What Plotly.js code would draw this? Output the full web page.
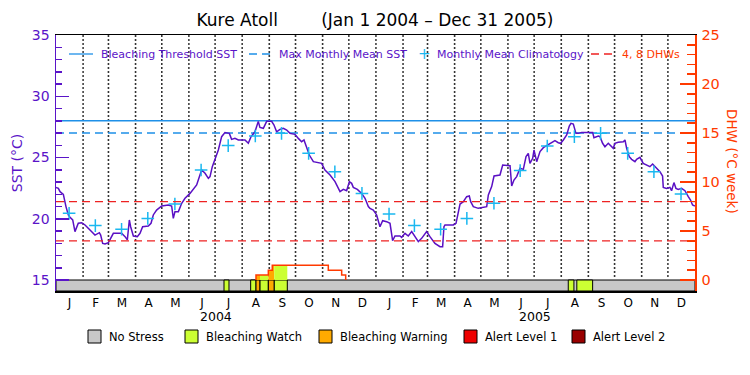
<!DOCTYPE html>
<html><head><meta charset="utf-8">
<script src="https://cdn.plot.ly/plotly-3.0.1.min.js"></script>
<style>html,body{margin:0;padding:0;background:#fff}#chart{width:750px;height:375px}</style>
</head><body><div id="chart"></div>
<script>
// ---- data (days are offsets from Jan 1 2004) ----
const periodStart = '2004-01-01';
const periodEnd = '2006-01-01';
const periodDays = 731;

const sstDay = [0,2.7,4.6,8.4,11.4,14.1,16.0,19.1,21.7,25.5,
 29.4,33.2,38.9,44.6,49.6,51.1,53.4,56.1,59.9,65.6,
 75.1,79.0,81.6,83.9,85.4,88.5,93.0,96.1,99.1,105.6,
 108.7,111.3,115.1,120.9,128.5,132.3,134.2,136.1,140.0,143.8,
 147.6,153.3,160.9,166.6,170.5,174.3,176.2,178.8,181.9,185.7,
 189.5,193.3,198.3,200.9,204.7,208.6,216.2,220.0,223.1,227.6,
 231.4,233.3,237.2,241.0,246.7,249.4,252.4,256.2,260.1,263.9,
 267.7,273.4,277.2,281.0,283.7,286.0,289.8,294.4,298.2,303.9,
 307.7,313.5,319.2,324.9,328.7,332.5,335.6,338.2,340.1,344.7,
 349.7,353.5,357.3,
 359.2,363.0,366.8,370.6,373.7,378.3,382.1,385.1,387.8,393.5,
 395.4,399.2,403.0,406.9,409.5,414.5,418.3,424.0,427.8,433.5,
 439.3,442.3,443.8,445.0,454.5,457.6,462.2,466.0,469.8,472.8,
 474.4,477.4,483.1,488.9,492.7,494.6,498.4,501.1,507.9,511.0,
 519.4,521.3,523.9,527.0,530.8,534.6,537.7,540.3,542.2,545.3,
 546.8,549.9,553.7,557.5,563.2,567.0,570.8,574.6,577.3,580.4,
 584.2,587.2,589.1,591.8,594.8,597.5,601.3,613.9,615.4,620.4,
 622.3,625.3,628.0,631.8,634.5,637.5,639.4,643.2,649.0,650.9,
 652.8,655.8,658.5,662.3,664.2,668.0,671.8,675.6,679.4,682.5,
 687.1,690.9,693.9,694.7,698.5,702.3,704.2,706.9,709.2,711.8,
 715.6,719.5,723.3,725.9,728.2,730.9];
const sstValue = [22.56,22.48,22.21,21.99,20.99,20.31,20.12,19.90,18.95,19.63,
 19.68,19.49,19.08,18.67,18.86,18.67,17.99,17.94,18.05,18.81,
 18.81,18.54,18.27,19.90,19.35,18.59,18.54,18.81,19.35,19.41,
 19.63,20.31,20.71,21.04,21.12,21.04,20.03,20.58,20.58,21.26,
 21.67,22.07,22.76,23.98,23.71,23.30,23.44,24.25,24.85,25.61,
 26.70,27.03,26.97,26.48,26.56,26.43,26.43,26.16,26.70,27.10,
 27.95,27.46,27.38,27.95,27.95,27.65,27.10,27.30,27.38,27.24,
 26.97,26.89,26.56,26.29,26.43,26.02,25.20,24.66,24.58,24.52,
 23.98,23.57,23.03,22.21,22.40,22.29,23.03,22.89,22.56,22.40,
 22.07,21.67,20.99,
 20.85,20.71,20.31,19.35,19.84,19.76,19.63,18.21,18.59,18.59,
 18.48,18.81,18.59,18.95,18.67,18.13,18.40,18.95,18.54,17.99,
 17.72,17.72,19.35,19.49,19.49,19.63,21.20,21.39,21.80,21.86,
 21.39,20.99,20.85,20.93,20.99,21.94,22.62,23.49,23.57,24.39,
 24.33,22.67,23.16,23.44,24.12,24.03,25.07,25.34,24.52,24.93,
 25.61,24.66,25.48,25.80,26.02,26.21,26.37,26.21,26.16,26.43,
 26.84,27.57,27.79,27.73,26.97,26.97,27.05,27.05,26.62,26.76,
 26.70,26.16,25.88,26.16,25.94,25.75,26.16,26.24,26.29,26.43,
 25.75,25.07,24.85,24.66,24.85,25.01,24.52,24.39,24.25,24.47,
 24.12,23.84,23.49,22.56,22.48,22.56,22.29,22.95,22.48,22.40,
 22.48,22.29,21.80,21.53,21.12,21.04];

const climDate = ['2004-01-16','2004-02-15','2004-03-16','2004-04-15','2004-05-16','2004-06-15',
 '2004-07-16','2004-08-16','2004-09-15','2004-10-16','2004-11-15','2004-12-16',
 '2005-01-16','2005-02-14','2005-03-16','2005-04-15','2005-05-16','2005-06-15',
 '2005-07-16','2005-08-16','2005-09-15','2005-10-16','2005-11-15','2005-12-16'];
const climValue = [20.44,19.44,19.14,20.03,21.20,23.98,25.97,26.76,26.97,25.34,23.84,22.07,
 20.39,19.44,19.14,20.03,21.26,23.93,25.94,26.70,26.97,25.34,23.84,22.02];

const thresholdSST = 28.0;
const mmmSST = 27.0;
const dhwRefLevels = [4, 8];

const dhwDay = [228.8,228.8,242.9,247.4,311.5,326.8,331.4];
const dhwValue = [0,0.5,1.0,1.5,1.0,0.5,0];

const stressStart = [192.2,222.7,228.8,233.4,242.9,249.7,586.0,595.8];
const stressEnd   = [197.9,228.8,233.4,242.9,249.7,264.6,592.5,613.9];
const stressLevel = [1,1,2,1,2,1,1,1];
const stressNames = ['No Stress','Bleaching Watch','Bleaching Warning','Alert Level 1','Alert Level 2'];
const stressColors = ['#c8c8c8','#ccff33','#ffaa00','#ee0000','#990000'];

const monthLetters = ['J','F','M','A','M','J','J','A','S','O','N','D'];
const years = [2004, 2005];

// ---- helpers ----
const DAY = 86400000;
const t0 = Date.UTC(2004,0,1);
function fmt(ms){ return new Date(ms).toISOString().slice(0,19).replace('T',' '); }
function dayToDate(d){ return fmt(t0 + d*DAY); }
const purple = '#5a14c8', sstColor = '#5a10c4', orange = '#ff3a00', blue = '#1e90e8', cross = '#1ab8f0', red = '#ee2222';
const Y0 = 14.102, Y1 = 35, Y20 = -1.1224, Y21 = 25;
const L = 56, R = 695, T = 35, B = 291;
const px = v => (v - L) / (R - L);
const py = v => (B - v) / (B - T);
const fontFam = 'DejaVu Sans';

// ---- traces ----
const traces = [];
// dotted month boundaries drawn as a column of small dots per month start
const gx = [], gy = [];
const dotStep = 4 / 12.25; // one dot every 4 px
years.forEach(y=>{ for(let m=0;m<12;m++){ if(y===years[0] && m===0) continue;
  const d = fmt(Date.UTC(y,m,1));
  for(let v = 15 + dotStep; v < Y1; v += dotStep){ gx.push(d); gy.push(v); }
} });
traces.push({type:'scatter', mode:'markers', x:gx, y:gy, yaxis:'y', hoverinfo:'skip',
  marker:{symbol:'square', size:1.6, color:'#000000', line:{width:0}}});
// stress bar background
traces.push({type:'bar', x:[dayToDate(periodDays/2)], width:[periodDays*DAY], base:[Y0], y:[15-Y0],
  marker:{color:stressColors[0], line:{color:'black', width:1}}, yaxis:'y', hoverinfo:'skip'});
// stress segments
traces.push({type:'bar',
  x: stressStart.map((s,i)=>dayToDate((s+stressEnd[i])/2)),
  width: stressStart.map((s,i)=>(stressEnd[i]-s)*DAY),
  base: stressStart.map(()=>Y0), y: stressStart.map(()=>15-Y0),
  marker:{color: stressLevel.map(l=>stressColors[l]), line:{color:'black', width:1}}, yaxis:'y', hoverinfo:'skip'});
// threshold and MMM
traces.push({type:'scatter', mode:'lines', x:[periodStart, periodEnd], y:[thresholdSST, thresholdSST],
  line:{color:blue, width:1.3}, yaxis:'y'});
traces.push({type:'scatter', mode:'lines', x:[periodStart, periodEnd], y:[mmmSST, mmmSST],
  line:{color:blue, width:1.3, dash:'8px,5px'}, yaxis:'y'});
// SST
traces.push({type:'scatter', mode:'lines', x:sstDay.map(dayToDate), y:sstValue,
  line:{color:sstColor, width:1.5}, yaxis:'y'});
// climatology
traces.push({type:'scatter', mode:'markers', x:climDate, y:climValue,
  marker:{symbol:'cross-thin-open', size:9, line:{color:cross, width:1.5}, color:cross}, yaxis:'y'});
// DHW reference lines
dhwRefLevels.forEach(v=>{
  traces.push({type:'scatter', mode:'lines', x:[periodStart, periodEnd], y:[v, v],
    line:{color:red, width:1.3, dash:'8px,5px'}, yaxis:'y2'});
});
// DHW fill coloured by stress level
function dhwAt(d){ let v = 0; for(let i=0;i<dhwDay.length;i++){ if(dhwDay[i] <= d) v = dhwValue[i]; } return v; }
stressStart.forEach((s,i)=>{
  const e = stressEnd[i];
  const cuts = [s].concat(dhwDay.filter(d=>d>s && d<e)).concat([e]);
  const xs = [dayToDate(s)], ys = [0];
  let any = false;
  for(let k=0;k<cuts.length-1;k++){
    const v = dhwAt(cuts[k] + 1e-6);
    if(v>0) any = true;
    xs.push(dayToDate(cuts[k]), dayToDate(cuts[k+1])); ys.push(v, v);
  }
  xs.push(dayToDate(e)); ys.push(0);
  if(any) traces.push({type:'scatter', mode:'lines', x:xs, y:ys, fill:'toself', fillcolor:stressColors[stressLevel[i]],
    line:{width:0}, yaxis:'y2', hoverinfo:'skip'});
});
// DHW line
traces.push({type:'scatter', mode:'lines', x:dhwDay.map(dayToDate), y:dhwValue,
  line:{color:orange, width:1.5, shape:'hv'}, yaxis:'y2'});

// ---- ticks ----
const tickvals = [], ticktext = [];
years.forEach(y=>{ for(let m=0;m<12;m++){ tickvals.push(fmt((Date.UTC(y,m,1)+Date.UTC(y,m+1,1))/2)); ticktext.push(monthLetters[m]); } });
const y2minor = []; for(let v=1; v<25; v++){ if(v%5) y2minor.push(v); }

// ---- annotations & shapes (legends, titles) ----
const ann = [], shapes = [];
years.forEach(y=>{
  ann.push({x: fmt((Date.UTC(y,0,1)+Date.UTC(y+1,0,1))/2), xref:'x', y:py(316), yref:'paper', text:String(y),
    showarrow:false, font:{size:12.5, color:'black'}, xanchor:'center', yanchor:'middle'});
});
ann.push({x:px(732), y:py(161), xref:'paper', yref:'paper', text:'DHW (°C week)', textangle:90, showarrow:false,
  font:{size:13.5, color:orange}, xanchor:'center', yanchor:'middle'});
// top legend
const ly = py(54);
shapes.push({type:'line', xref:'paper', yref:'paper', x0:px(69), x1:px(93), y0:ly, y1:ly, line:{color:blue, width:1.3}});
shapes.push({type:'line', xref:'paper', yref:'paper', x0:px(249), x1:px(271), y0:ly, y1:ly, line:{color:blue, width:1.3, dash:'8px,5px'}});
shapes.push({type:'line', xref:'paper', yref:'paper', x0:px(591), x1:px(613), y0:ly, y1:ly, line:{color:red, width:1.3, dash:'8px,5px'}});
[['Bleaching Threshold SST',99,purple],['Max Monthly Mean SST',277,purple],['Monthly Mean Climatology',435,purple],['4, 8 DHWs',620,orange]].forEach(t=>{
  ann.push({x:px(t[1]), y:ly, xref:'paper', yref:'paper', text:t[0], showarrow:false, xanchor:'left', yanchor:'middle',
    font:{size:11, color:t[2]}});
});
ann.push({x:px(424), y:ly, xref:'paper', yref:'paper', text:'+', showarrow:false, xanchor:'center', yanchor:'middle',
  font:{size:15, color:cross}});
// bottom legend
const bx = [88,185,319,464,572];
stressNames.forEach((n,i)=>{
  shapes.push({type:'rect', xref:'paper', yref:'paper', x0:px(bx[i]), x1:px(bx[i]+13), y0:py(343), y1:py(330),
    fillcolor:stressColors[i], line:{color:'black', width:1}});
  ann.push({x:px(bx[i]+19), y:py(336.5), xref:'paper', yref:'paper', text:n, showarrow:false, xanchor:'left', yanchor:'middle',
    font:{size:11.5, color:'black'}});
});

const nb = '\u00a0';
const layout = {
  width:750, height:375,
  margin:{l:L, r:750-R, t:T, b:375-B, pad:0},
  paper_bgcolor:'white', plot_bgcolor:'white',
  showlegend:false, barmode:'overlay', bargap:0,
  font:{family:fontFam, color:'black'},
  title:{text:'Kure Atoll' + nb.repeat(8) + '(Jan 1 2004 \u2013 Dec 31 2005)', font:{size:17, color:'black', family:fontFam},
    x:0.5, xref:'container', xanchor:'center', y:1-20/375, yref:'container', yanchor:'middle'},
  xaxis:{type:'date', range:[periodStart, periodEnd], tickmode:'array', tickvals:tickvals, ticktext:ticktext,
    ticks:'', showgrid:false, zeroline:false, showline:true, linecolor:'black', linewidth:1.5, mirror:true,
    tickfont:{size:12, color:'black'}},
  yaxis:{range:[Y0, Y1], tickmode:'linear', tick0:0, dtick:5, ticks:'inside', ticklen:13, tickwidth:1.5, tickcolor:purple,
    showgrid:false, zeroline:false, showline:true, linecolor:purple, linewidth:1.5,
    tickfont:{size:14, color:purple}, ticklabelstandoff:2,
    minor:{tickmode:'linear', tick0:0, dtick:1, ticks:'inside', ticklen:6, tickwidth:1.5, tickcolor:purple, showgrid:false},
    title:{text:'SST (°C)', font:{size:14, color:purple}, standoff:6}},
  yaxis2:{overlaying:'y', side:'right', range:[Y20, Y21], tickmode:'linear', tick0:0, dtick:5, ticks:'inside', ticklen:15,
    tickwidth:1.5, tickcolor:orange, showgrid:false, zeroline:false, showline:true, linecolor:orange, linewidth:1.5,
    tickfont:{size:14.5, color:orange}, ticklabelstandoff:2,
    minor:{tickmode:'array', tickvals:y2minor, ticks:'inside', ticklen:8, tickwidth:1.5, tickcolor:orange, showgrid:false}},
  annotations:ann, shapes:shapes
};
Plotly.newPlot('chart', traces, layout, {staticPlot:true, displayModeBar:false});
</script></body></html>
